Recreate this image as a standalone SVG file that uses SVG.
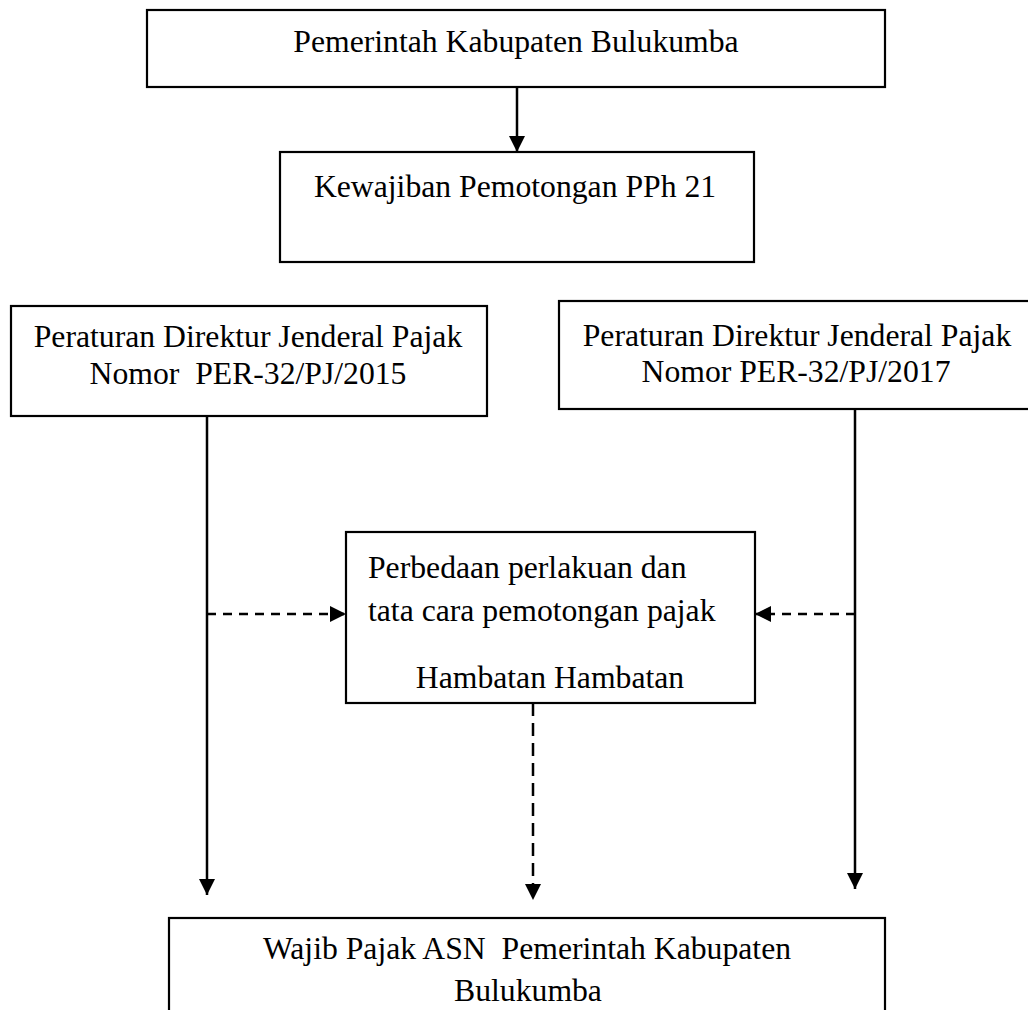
<svg xmlns="http://www.w3.org/2000/svg" width="1028" height="1010" viewBox="0 0 1028 1010">
<style>
.box{fill:#fff;stroke:#000;stroke-width:2.2}
.t{font-family:"Liberation Serif","Times New Roman",serif;font-size:31.7px;fill:#000;white-space:pre}
.c{text-anchor:middle}
.ln{fill:none;stroke:#000;stroke-width:2.5}
.dh{stroke-dasharray:9 7}
.dv{stroke-dasharray:13 7}
</style>
<defs>
<marker id="ah" viewBox="0 0 16 16" refX="16" refY="8" markerWidth="16" markerHeight="16" markerUnits="userSpaceOnUse" orient="auto">
<path d="M0,0 L16,8 L0,16 Z" fill="#000"/>
</marker>
</defs>
<rect width="1028" height="1010" fill="#fff"/>
<g id="n1">
<rect class="box" x="147" y="10" width="738" height="77"/>
<text class="t c" x="516" y="52">Pemerintah Kabupaten Bulukumba</text>
</g>
<g id="n2">
<rect class="box" x="280" y="152" width="474" height="110"/>
<text class="t c" x="515" y="197">Kewajiban Pemotongan PPh 21</text>
</g>
<g id="n3">
<rect class="box" x="11" y="306" width="476" height="110"/>
<text class="t c" x="248" y="347">Peraturan Direktur Jenderal Pajak</text>
<text class="t c" x="248" y="384">Nomor  PER-32/PJ/2015</text>
</g>
<g id="n4">
<rect class="box" x="559" y="301" width="480" height="108"/>
<text class="t c" x="797" y="346">Peraturan Direktur Jenderal Pajak</text>
<text class="t c" x="796" y="382">Nomor PER-32/PJ/2017</text>
</g>
<g id="n5">
<rect class="box" x="346" y="532" width="409" height="171"/>
<text class="t" x="368" y="578">Perbedaan perlakuan dan</text>
<text class="t" x="368" y="621">tata cara pemotongan pajak</text>
<text class="t c" x="550" y="688">Hambatan Hambatan</text>
</g>
<g id="n6">
<rect class="box" x="169" y="918" width="716" height="110"/>
<text class="t c" x="527" y="959">Wajib Pajak ASN  Pemerintah Kabupaten</text>
<text class="t c" x="528" y="1001">Bulukumba</text>
</g>
<g id="connectors">
<line class="ln" x1="517" y1="87" x2="517" y2="152" marker-end="url(#ah)"/>
<line class="ln" x1="207" y1="416" x2="207" y2="895" marker-end="url(#ah)"/>
<line class="ln" x1="855" y1="409" x2="855" y2="889" marker-end="url(#ah)"/>
<line class="ln dh" x1="207" y1="614" x2="346" y2="614" marker-end="url(#ah)"/>
<line class="ln dh" x1="855" y1="614" x2="755" y2="614" marker-end="url(#ah)"/>
<line class="ln dv" x1="533" y1="703" x2="533" y2="900" marker-end="url(#ah)"/>
</g>
</svg>
